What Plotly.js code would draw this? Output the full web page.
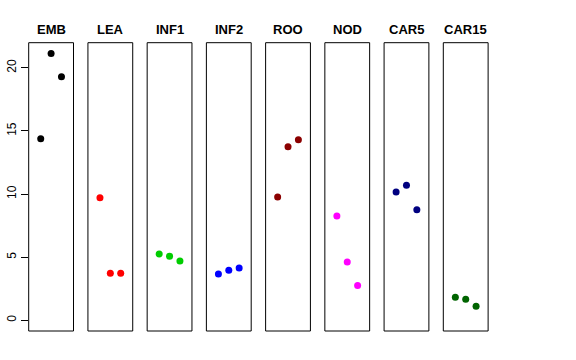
<!DOCTYPE html>
<html><head><meta charset="utf-8">
<script src="https://cdn.plot.ly/plotly-3.0.1.min.js"></script>
<style>body{margin:0}#c{width:576px;height:360px}</style>
</head><body><div id="c"></div>
<script>
const categories = ["EMB","LEA","INF1","INF2","ROO","NOD","CAR5","CAR15"];
const replicate = [1,2,3];
const EMB   = [14.39, 21.14, 19.30];
const LEA   = [9.71, 3.72, 3.72];
const INF1  = [5.26, 5.07, 4.70];
const INF2  = [3.67, 3.96, 4.15];
const ROO   = [9.77, 13.75, 14.31];
const NOD   = [8.27, 4.62, 2.75];
const CAR5  = [10.17, 10.69, 8.76];
const CAR15 = [1.82, 1.66, 1.11];
const yTicks = [0,5,10,15,20];

(function(){
const series = [EMB,LEA,INF1,INF2,ROO,NOD,CAR5,CAR15];
const colors = ["#000000","#FF0000","#00CD00","#0000FF","#8B0000","#FF00FF","#000080","#006400"];

const W=576,H=360;
const left0=28.7, step=59.23, pw=44.8, panelTop=42.7, panelBottom=331;
const yDom=[1-panelBottom/H, 1-panelTop/H];
const yRange=[-0.846, 21.99];
const xRange=[-0.16, 4.16];

const traces=[], shapes=[], annotations=[];
const layout={width:W,height:H,margin:{l:0,r:0,t:0,b:0},showlegend:false,
  paper_bgcolor:"#fff",plot_bgcolor:"rgba(0,0,0,0)",
  font:{family:"Liberation Sans, Arial, sans-serif",color:"#000"}};

categories.forEach((cat,i)=>{
  const n=i===0?"":String(i+1);
  const l=left0+i*step, r=l+pw;
  layout["xaxis"+n]={domain:[l/W,r/W],range:xRange,showticklabels:false,ticks:"",
    showgrid:false,zeroline:false,showline:false,fixedrange:true};
  layout["yaxis"+n]={domain:yDom,range:yRange,anchor:"x"+n,showgrid:false,zeroline:false,
    showline:false,fixedrange:true,showticklabels:i===0,ticks:i===0?"outside":"",
    ticklen:7,tickwidth:1,tickcolor:"#000",tickvals:i===0?yTicks:[],
    tickangle:-90,tickfont:{size:12,color:"#000"},automargin:false};
  traces.push({x:replicate,y:series[i],xaxis:"x"+n,yaxis:"y"+n,type:"scatter",mode:"markers",
    marker:{color:colors[i],size:7},hoverinfo:"skip"});
  shapes.push({type:"rect",xref:"x"+n+" domain",yref:"y"+n+" domain",x0:0,x1:1,y0:0,y1:1,
    line:{color:"#000",width:1},fillcolor:"rgba(0,0,0,0)"});
  annotations.push({text:"<b>"+cat+"</b>",xref:"paper",yref:"paper",x:(l+r)/2/W,y:1-29/H,
    xanchor:"center",yanchor:"middle",showarrow:false,font:{size:13,color:"#000"}});
});
layout.shapes=shapes;layout.annotations=annotations;
Plotly.newPlot("c",traces,layout,{staticPlot:true});
})();
</script></body></html>
